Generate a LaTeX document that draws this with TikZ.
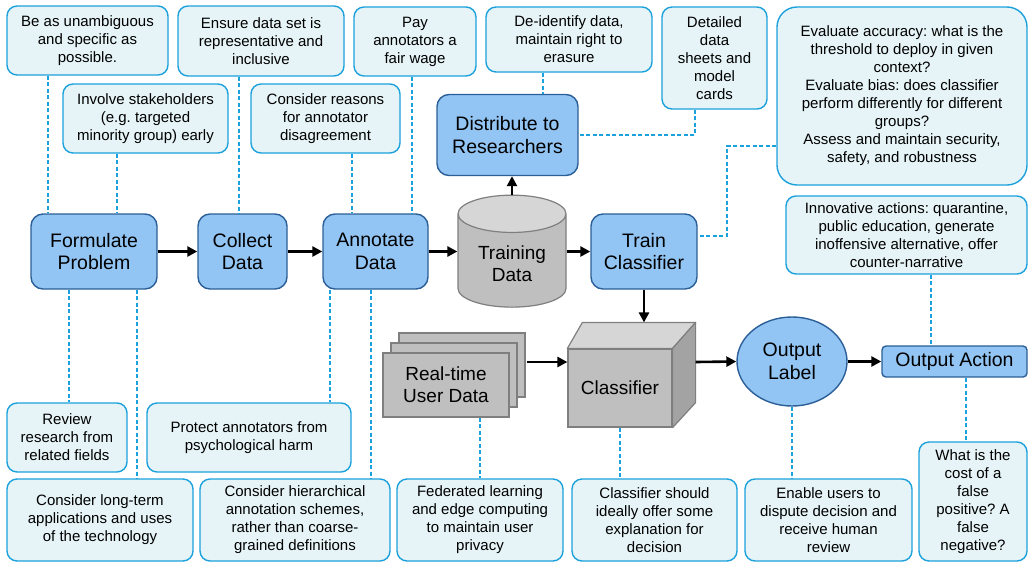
\documentclass[tikz,border=0pt]{standalone}
\usepackage{fontspec}
\setmainfont{Liberation Sans}
\usetikzlibrary{shapes.geometric,positioning,arrows.meta,calc,shadows}

\definecolor{stagefill}{HTML}{92C5F4}
\definecolor{stageline}{HTML}{2B5F97}
\definecolor{notefill}{HTML}{E6F4F7}
\definecolor{noteline}{HTML}{1BA1DB}
\definecolor{blockfill}{HTML}{BFBFBF}
\definecolor{blocktop}{HTML}{D6D6D6}
\definecolor{blockside}{HTML}{A3A3A3}
\definecolor{blockline}{HTML}{7F7F7F}

\begin{document}
\frenchspacing
\begin{tikzpicture}[x=1pt,y=-1pt,
    stage/.style={rectangle,rounded corners=12pt,draw=stageline,fill=stagefill,
        line width=1.4pt,align=center,inner sep=2pt,
        font=\fontsize{19.5}{22.5}\selectfont},
    note/.style={rectangle,rounded corners=10pt,draw=noteline,fill=notefill,
        line width=1.4pt,align=center,inner sep=2pt,
        font=\fontsize{15}{18}\selectfont},
    grayblock/.style={draw=blockline,fill=blockfill,line width=1.2pt,
        align=center,font=\fontsize{19}{22}\selectfont},
    flowarrow/.style={line width=2.6pt,-{Triangle[length=10pt,width=10pt]}},
    dashlink/.style={draw=noteline,line width=1.3pt,dash pattern=on 4pt off 2.5pt}
]
    \useasboundingbox (0,0) rectangle (1028,563);

    % main flow
    \node[stage,minimum width=126pt,minimum height=75pt] (fp) at (94,251.5) {Formulate\\Problem};
    \node[stage,minimum width=89pt,minimum height=75pt] (cd) at (242.5,251.5) {Collect\\Data};
    \node[stage,minimum width=105pt,minimum height=75pt] (ad) at (375.5,251.5) {Annotate\\Data};
    \node[cylinder,shape border rotate=90,aspect=0.5,draw=blockline,line width=1.2pt,
        cylinder uses custom fill,cylinder body fill=blockfill,cylinder end fill=blocktop,
        minimum width=108pt,minimum height=112pt,align=center,
        font=\fontsize{19}{22}\selectfont] (td) at (512,264) {Training\\Data};
    \node[stage,minimum width=106pt,minimum height=75pt] (tc) at (644,251.5) {Train\\Classifier};
    \node[stage,minimum width=141pt,minimum height=81pt] (dist) at (507.5,135) {Distribute to\\Researchers};

    \node[grayblock,minimum width=126pt,minimum height=64pt,
        double copy shadow={shadow xshift=8pt,shadow yshift=10pt,draw=blockline,fill=blockfill}]
        (rt) at (446,385) {Real-time\\User Data};
    \node[grayblock,minimum width=104pt,minimum height=78pt] (clf) at (620,388) {Classifier};
    \coordinate (clfbl) at ([xshift=15pt,yshift=26pt]clf.north west);
    \coordinate (clfbr) at ([xshift=23pt,yshift=26pt]clf.north east);
    \coordinate (clfbd) at ([xshift=23pt,yshift=25pt]clf.south east);
    \draw[draw=blockline,fill=blocktop,line width=1.2pt,line join=round]
        (clf.north west) -- (clfbl) -- (clfbr) -- (clf.north east) -- cycle;
    \draw[draw=blockline,fill=blockside,line width=1.2pt,line join=round]
        (clf.north east) -- (clfbr) -- (clfbd) -- (clf.south east) -- cycle;

    \node[ellipse,draw=stageline,fill=stagefill,line width=1.4pt,align=center,
        minimum width=110pt,minimum height=89pt,inner sep=0pt,
        font=\fontsize{19.5}{22.5}\selectfont] (olab) at (792,361.5) {Output\\Label};
    \node[stage,rounded corners=4pt,minimum width=145pt,minimum height=31pt] (oa) at (954.5,361.5) {Output Action};

    \draw[flowarrow] (fp) -- (cd);
    \draw[flowarrow] (cd) -- (ad);
    \draw[flowarrow] (ad) -- (ad -| td.west);
    \draw[flowarrow] (td.east |- tc) -- (tc);
    \draw[flowarrow] (td.north) -- (td.north |- dist.south);
    \draw[flowarrow] (tc.south) -- (tc.south |- clfbl);
    \draw[flowarrow] ([xshift=17pt,yshift=23pt]rt.east) -- ([yshift=26pt]clf.west);
    \draw[flowarrow] ([xshift=23pt,yshift=26pt]clf.east) -- (olab.west);
    \draw[flowarrow] (olab) -- (oa);

    % notes above
    \node[note,minimum width=161pt,minimum height=69pt] (beas) at (87.5,40.5) {Be as unambiguous\\and specific as\\possible.};
    \node[note,minimum width=166pt,minimum height=70pt] (ensure) at (261,41) {Ensure data set is\\representative and\\inclusive};
    \node[note,minimum width=165pt,minimum height=69pt] (involve) at (145.5,118.5) {Involve stakeholders\\(e.g. targeted\\minority group) early};
    \node[note,minimum width=149pt,minimum height=69pt] (reasons) at (325.5,118.5) {Consider reasons\\for annotator\\disagreement};
    \node[note,minimum width=122pt,minimum height=69pt] (pay) at (415,41.5) {Pay\\annotators a\\fair wage};
    \node[note,minimum width=166pt,minimum height=65pt] (deident) at (569,39.5) {De-identify data,\\maintain right to\\erasure};
    \node[note,minimum width=105pt,minimum height=102pt] (sheets) at (714.5,58) {Detailed\\data\\sheets and\\model\\cards};
    \node[note,rounded corners=20pt,minimum width=250pt,minimum height=178pt] (evalbox) at (902,96)
        {Evaluate accuracy: what is the\\threshold to deploy in given\\context?\\Evaluate bias: does classifier\\perform differently for different\\groups?\\Assess and maintain security,\\safety, and robustness};
    \node[note,minimum width=241pt,minimum height=78pt] (innov) at (906.5,235)
        {Innovative actions: quarantine,\\public education, generate\\inoffensive alternative, offer\\counter-narrative};

    % notes below
    \node[note,minimum width=120pt,minimum height=69pt] (review) at (67,437.5) {Review\\research from\\related fields};
    \node[note,minimum width=204pt,minimum height=69pt] (protect) at (249,437.5) {Protect annotators from\\psychological harm};
    \node[note,minimum width=186pt,minimum height=82pt] (longterm) at (100,520) {Consider long-term\\applications and uses\\of the technology};
    \node[note,minimum width=190pt,minimum height=82pt] (hier) at (295,520) {Consider hierarchical\\annotation schemes,\\rather than coarse-\\grained definitions};
    \node[note,minimum width=166pt,minimum height=82pt] (fedl) at (480,520) {Federated learning\\and edge computing\\to maintain user\\privacy};
    \node[note,minimum width=165pt,minimum height=82pt] (explain) at (654.5,520) {Classifier should\\ideally offer some\\explanation for\\decision};
    \node[note,minimum width=167pt,minimum height=82pt] (dispute) at (828.5,520) {Enable users to\\dispute decision and\\receive human\\review};
    \node[note,minimum width=108pt,minimum height=119pt] (cost) at (973,501.5) {What is the\\cost of a\\false\\positive? A\\false\\negative?};

    % dashed links
    \draw[dashlink] (beas.south -| 48,0) -- (fp.north -| 48,0);
    \draw[dashlink] (involve.south -| 117,0) -- (fp.north -| 117,0);
    \draw[dashlink] (ensure.south -| 239,0) -- (cd.north -| 239,0);
    \draw[dashlink] (reasons.south -| 352,0) -- (ad.north -| 352,0);
    \draw[dashlink] (pay.south -| 412,0) -- (ad.north -| 412,0);
    \draw[dashlink] (deident.south -| 543,0) -- (dist.north -| 543,0);
    \draw[dashlink] (sheets.south -| 695,0) |- (dist.east);
    \draw[dashlink] (evalbox.west |- 0,146) -| (727,236) -- (tc.east |- 0,236);
    \draw[dashlink] (innov.south -| 931,0) -- (oa.north -| 931,0);
    \draw[dashlink] (fp.south -| 69,0) -- (review.north -| 69,0);
    \draw[dashlink] (fp.south -| 137,0) -- (longterm.north -| 137,0);
    \draw[dashlink] (ad.south -| 330,0) -- (protect.north -| 330,0);
    \draw[dashlink] (ad.south -| 371,0) -- (hier.north -| 371,0);
    \draw[dashlink] (rt.south -| 480,0) -- (fedl.north -| 480,0);
    \draw[dashlink] (clf.south) -- (clf.south |- explain.north);
    \draw[dashlink] (olab.south) -- (olab.south |- dispute.north);
    \draw[dashlink] (oa.south -| 966,0) -- (cost.north -| 966,0);
\end{tikzpicture}
\end{document}
